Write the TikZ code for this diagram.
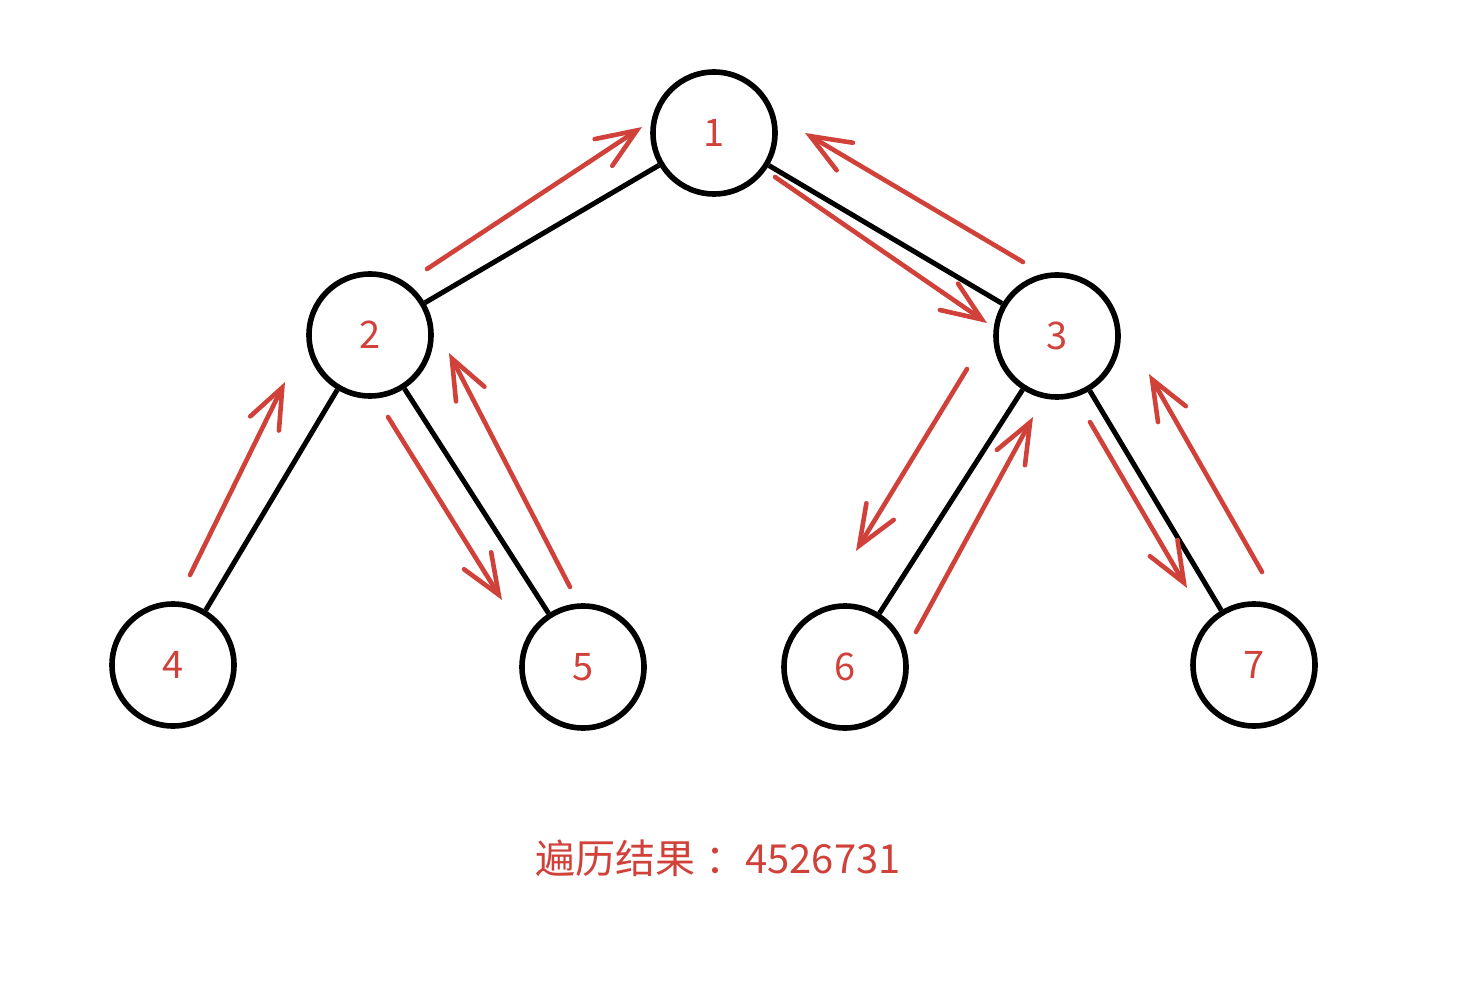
\documentclass[tikz,border=0pt]{standalone}
\usepackage{fontspec}
\newfontfamily\cjk{Noto Sans CJK SC}
\usetikzlibrary{arrows.meta}
\definecolor{penred}{RGB}{208,65,58}
\tikzset{
  treenode/.style={circle, draw=black, line width=2.8pt, minimum size=61pt, inner sep=0pt,
    text=penred, font=\cjk\fontsize{19pt}{22pt}\selectfont},
  treeedge/.style={draw=black, line width=2.5pt},
  walk/.style={draw=penred, line width=2.3pt, line cap=round,
    -{Straight Barb[length=20pt, width=16pt, line cap=round]}},
  caption/.style={text=penred, font=\cjk\fontsize{20pt}{24pt}\selectfont}
}
\begin{document}
\begin{tikzpicture}[x=0.5pt, y=-0.5pt]
\useasboundingbox (0,0) rectangle (1462,994);
% nodes
\node[treenode] (n1) at (714,133) {1};
\node[treenode] (n2) at (370,335) {2};
\node[treenode] (n3) at (1057,336) {3};
\node[treenode] (n4) at (173,665) {4};
\node[treenode] (n5) at (583,667) {5};
\node[treenode] (n6) at (845,667) {6};
\node[treenode] (n7) at (1254,665) {7};
% edges
\draw[treeedge] (n1) -- (n2);
\draw[treeedge] (n1) -- (n3);
\draw[treeedge] (n2) -- (n4);
\draw[treeedge] (n2) -- (n5);
\draw[treeedge] (n3) -- (n6);
\draw[treeedge] (n3) -- (n7);
% walk coordinates
\coordinate (a1s) at (190,575);  \coordinate (a1e) at (285,382);
\coordinate (a2s) at (388,417);  \coordinate (a2e) at (502,600);
\coordinate (a3s) at (570,587);  \coordinate (a3e) at (449,353);
\coordinate (a4s) at (427,269);  \coordinate (a4e) at (642,127);
\coordinate (a5s) at (775,177);  \coordinate (a5e) at (987,323);
\coordinate (a6s) at (967,369);  \coordinate (a6e) at (856,551);
\coordinate (a7s) at (916,632);  \coordinate (a7e) at (1033,417);
\coordinate (a8s) at (1090,422); \coordinate (a8e) at (1187,588);
\coordinate (a9s) at (1262,572); \coordinate (a9e) at (1149,374);
\coordinate (a10s) at (1023,262); \coordinate (a10e) at (805,133);
% walk arrows
\draw[walk] (a1s) -- (a1e);
\draw[walk] (a2s) -- (a2e);
\draw[walk] (a3s) -- (a3e);
\draw[walk] (a4s) -- (a4e);
\draw[walk] (a5s) -- (a5e);
\draw[walk] (a6s) -- (a6e);
\draw[walk] (a7s) -- (a7e);
\draw[walk] (a8s) -- (a8e);
\draw[walk] (a9s) -- (a9e);
\draw[walk] (a10s) -- (a10e);
% caption
\node[caption] (cap) at (718,858) {遍历结果\hspace{0.25em}：4526731};
\end{tikzpicture}
\end{document}
